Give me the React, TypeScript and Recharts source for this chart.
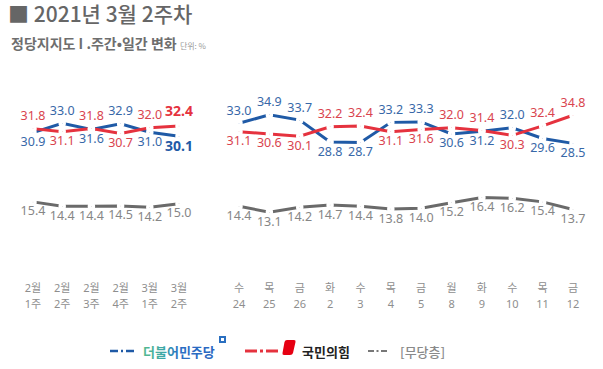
import React from "react";
import { LineChart, Line, XAxis, YAxis, LabelList } from "recharts";

// weekly panel
const weekMonths = ["2월", "2월", "2월", "2월", "3월", "3월"];
const weekNums = ["1주", "2주", "3주", "4주", "1주", "2주"];
const weekMinju = [30.9, 33.0, 31.6, 32.9, 31.0, 30.1];
const weekPpp = [31.8, 31.1, 31.8, 30.7, 32.0, 32.4];
const weekNone = [15.4, 14.4, 14.4, 14.5, 14.2, 15.0];

// daily panel
const dayNames = ["수", "목", "금", "화", "수", "목", "금", "월", "화", "수", "목", "금"];
const dayDates = ["24", "25", "26", "2", "3", "4", "5", "8", "9", "10", "11", "12"];
const dayMinju = [33.0, 34.9, 33.7, 28.8, 28.7, 33.2, 33.3, 30.6, 31.2, 32.0, 29.6, 28.5];
const dayPpp = [31.1, 30.6, 30.1, 32.2, 32.4, 31.1, 31.6, 32.0, 31.4, 30.3, 32.4, 34.8];
const dayNone = [14.4, 13.1, 14.2, 14.7, 14.4, 13.8, 14.0, 15.2, 16.4, 16.2, 15.4, 13.7];

const BLUE = "#1f5aa6";
const BLUE_TXT = "#3868a8";
const RED = "#e5323e";
const RED_TXT = "#d9444e";
const GRAY = "#6a6a6a";
const GRAY_TXT = "#868686";
const FONT = "'Noto Sans', 'Noto Sans CJK KR', sans-serif";

const makeLabel =
  (color: string, own: number[], other: number[] | null, boldLast: boolean, boldColor: string) =>
  (props: any) => {
    const x = props.x ?? props.viewBox?.x;
    const y = props.y ?? props.viewBox?.y;
    const i = props.index;
    const above = other ? own[i] >= other[i] : false;
    const last = boldLast && i === own.length - 1;
    return (
      <text
        x={x}
        y={y + (above ? (last ? -15 : -13) : 9)}
        fill={last ? boldColor : color}
        fontSize={last ? 14 : 12.5}
        fontWeight={last ? 700 : 400}
        fontFamily={FONT}
        textAnchor="middle"
        dominantBaseline="central"
      >
        {Number(props.value).toFixed(1)}
      </text>
    );
  };

const TwoLineTick = (props: any) => {
  const { x, y, payload } = props;
  const [a, b] = String(payload.value).split("\n");
  return (
    <g>
      <text x={x} y={y + 61} textAnchor="middle" dominantBaseline="central" fill="#8e8e8e" fontSize={11} fontFamily={FONT}>
        {a}
      </text>
      <text x={x} y={y + 77} textAnchor="middle" dominantBaseline="central" fill="#8e8e8e" fontSize={11} fontFamily={FONT}>
        {b}
      </text>
    </g>
  );
};

function Panel(props: {
  tops: string[];
  bottoms: string[];
  minju: number[];
  ppp: number[];
  none: number[];
  width: number;
  left: number;
  ml: number;
  mr: number;
  boldLast: boolean;
}) {
  const { tops, bottoms, minju, ppp, none, width, left, ml, mr, boldLast } = props;
  const data = tops.map((t, i) => ({
    name: `${t}\n${bottoms[i]}`,
    minju: minju[i],
    ppp: ppp[i],
    none: none[i],
  }));
  const dot = (c: string) => ({ r: 2, fill: c, stroke: "#fff", strokeWidth: 3.5 });
  return (
    <div style={{ position: "absolute", left, top: 0 }}>
      <LineChart width={width} height={320} data={data} margin={{ top: 92, right: mr, left: ml, bottom: 34 }}>
        <XAxis
          dataKey="name"
          height={60}
          axisLine={false}
          tickLine={false}
          tickSize={0}
          tickMargin={0}
          interval={0}
          tick={<TwoLineTick />}
        />
        <YAxis hide domain={[10, 40]} />
        <Line dataKey="none" stroke={GRAY} strokeWidth={3} dot={dot(GRAY)} activeDot={false} isAnimationActive={false}>
          <LabelList dataKey="none" content={makeLabel(GRAY_TXT, none, null, false, GRAY_TXT)} />
        </Line>
        <Line dataKey="minju" stroke={BLUE} strokeWidth={3} dot={dot(BLUE)} activeDot={false} isAnimationActive={false}>
          <LabelList dataKey="minju" content={makeLabel(BLUE_TXT, minju, ppp, boldLast, BLUE)} />
        </Line>
        <Line dataKey="ppp" stroke={RED} strokeWidth={3} dot={dot(RED)} activeDot={false} isAnimationActive={false}>
          <LabelList dataKey="ppp" content={makeLabel(RED_TXT, ppp, minju, boldLast, RED)} />
        </Line>
      </LineChart>
    </div>
  );
}

function Legend() {
  return (
    <svg width={603} height={30} style={{ position: "absolute", left: 0, top: 336 }}>
      <defs>
        <linearGradient id="mj" x1="0" x2="1" y1="0" y2="0">
          <stop offset="0" stopColor="#55b98f" />
          <stop offset="0.3" stopColor="#3aa6a8" />
          <stop offset="0.5" stopColor="#2a6fc4" />
          <stop offset="1" stopColor="#2a66c0" />
        </linearGradient>
      </defs>
      <g stroke={BLUE} strokeWidth={2.5}>
        <line x1={110} y1={15} x2={118} y2={15} />
        <line x1={121} y1={15} x2={123} y2={15} />
        <line x1={126} y1={15} x2={134} y2={15} />
      </g>
      <text x={143} y={15} dominantBaseline="central" fontSize={13} fontWeight={700} fill="url(#mj)" fontFamily="'Noto Sans CJK KR', sans-serif">
        더불어민주당
      </text>
      <rect x={219} y={0} width={7} height={7} fill="#2a6fc0" />
      <rect x={221} y={2} width={3} height={3} fill="#ffffff" />
      <g stroke={RED} strokeWidth={3}>
        <line x1={245} y1={15} x2={257} y2={15} />
        <line x1={260} y1={15} x2={263} y2={15} />
        <line x1={266} y1={15} x2={278} y2={15} />
      </g>
      <path d="M287 4 L294 4 Q296 4 295.5 6 L293 17 Q292.5 19 290 19 L284 19 Q282 19 282.5 17 L284.5 6 Q285 4 287 4 Z" fill="#e60012" />
      <text x={302} y={15} dominantBaseline="central" fontSize={13} fontWeight={700} fill="#222" fontFamily="'Noto Sans CJK KR', sans-serif">
        국민의힘
      </text>
      <g stroke="#777" strokeWidth={2}>
        <line x1={368} y1={15} x2={374} y2={15} />
        <line x1={376.5} y1={15} x2={378.5} y2={15} />
        <line x1={381} y1={15} x2={387} y2={15} />
      </g>
      <text x={400} y={15} dominantBaseline="central" fontSize={13} fontWeight={500} fill="#8a8a8a" fontFamily="'Noto Sans CJK KR', sans-serif">
        [무당층]
      </text>
    </svg>
  );
}

export default function App() {
  return (
    <div
      style={{
        position: "absolute",
        left: 0,
        top: 0,
        width: 603,
        height: 369,
        background: "#fff",
        overflow: "hidden",
        fontFamily: "'Noto Sans CJK KR', sans-serif",
      }}
    >
      <div style={{ position: "absolute", left: 8, top: 2, fontSize: 21, lineHeight: "22px", fontWeight: 500, color: "#666" }}>
        ■ 2021년 3월 2주차
      </div>
      <div style={{ position: "absolute", left: 11, top: 34, fontSize: 14, lineHeight: "18px", fontWeight: 700, color: "#6e6e6e" }}>
        정당지지도 I .주간•일간 변화{" "}
        <span style={{ fontSize: 8, fontWeight: 400, color: "#999" }}>단위: %</span>
      </div>
      <Panel tops={weekMonths} bottoms={weekNums} minju={weekMinju} ppp={weekPpp} none={weekNone} width={210} left={0} ml={33} mr={31} boldLast={true} />
      <Panel tops={dayNames} bottoms={dayDates} minju={dayMinju} ppp={dayPpp} none={dayNone} width={403} left={200} ml={39} mr={30} boldLast={false} />
      <Legend />
    </div>
  );
}
